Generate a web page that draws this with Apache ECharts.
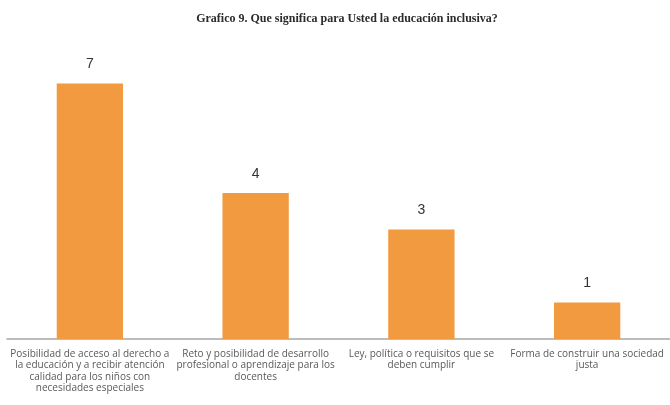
<!DOCTYPE html>
<html>
<head>
<meta charset="utf-8">
<script src="https://cdn.jsdelivr.net/npm/echarts@6/dist/echarts.min.js"></script>
<style>
  html, body { margin: 0; padding: 0; background: #fff; }
  #grafico { width: 670px; height: 405px; }
</style>
</head>
<body>
<div id="grafico"></div>
<script>
// datos del grafico
const titulo = 'Grafico 9. Que significa para Usted la educación inclusiva?'
const categorias = [
    'Posibilidad de acceso al derecho a\nla educación y a recibir atención\ncalidad para los niños con\nnecesidades especiales',
    'Reto y posibilidad de desarrollo\nprofesional o aprendizaje para los\ndocentes',
    'Ley, política o requisitos que se\ndeben cumplir',
    'Forma de construir una sociedad\njusta'
]
const valores = [7, 4, 3, 1]

let chartDom = document.getElementById('grafico')
let myChart = echarts.init(chartDom, null, { renderer: 'canvas' })

var option = {
    animation: false,
    title: {
        text: titulo,
        left: 342,
        textAlign: 'center',
        top: 8,
        textStyle: {
            fontFamily: 'Liberation Serif',
            fontSize: 12,
            fontWeight: 'bold',
            color: '#2b2b2b',
        },
    },
    grid: {
        left: 7,
        right: -3,
        top: 47,
        bottom: 66,
        containLabel: false,
    },
    xAxis: {
        type: 'category',
        data: categorias,
        axisLine: { show: true, lineStyle: { color: '#a6a6a6', width: 1.5 } },
        axisTick: { show: false },
        axisLabel: {
            interval: 0,
            margin: 9,
            fontFamily: 'Open Sans',
            fontSize: 10,
            lineHeight: 11.5,
            color: '#595959',
        },
    },
    yAxis: {
        type: 'value',
        min: 0,
        max: 8,
        show: false,
        splitLine: { show: false },
    },
    series: [
        {
            type: 'bar',
            data: valores,
            barWidth: '40%',
            itemStyle: { color: '#f29a3f' },
            label: {
                show: true,
                position: 'top',
                distance: 12,
                fontFamily: 'Liberation Sans',
                fontSize: 14,
                color: '#333333',
            },
        },
    ],
}

myChart.setOption(option)
</script>
</body>
</html>
